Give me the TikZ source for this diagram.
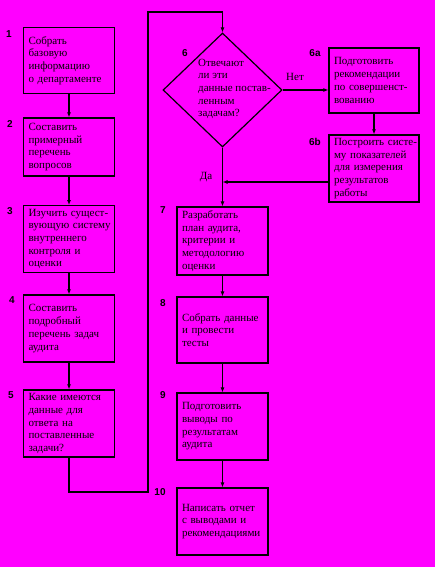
\documentclass[tikz,border=0pt]{standalone}
\usepackage{fontspec}
\setmainfont{Liberation Serif}
\setsansfont{Liberation Sans}
\usetikzlibrary{shapes.geometric,arrows.meta}
\definecolor{bgmag}{RGB}{255,0,255}

\begin{document}
\begin{tikzpicture}[x=1pt, y=-1pt,
    stepbox/.style={draw, line width=1.2pt, text width=81pt, inner xsep=5pt, minimum height=66pt, align=left, font=\fontsize{11}{12.7}\selectfont},
    decision/.style={draw, diamond, line width=1.2pt, minimum width=119pt, minimum height=114pt, inner sep=0pt},
    qtext/.style={inner sep=0pt, align=left, font=\fontsize{11}{12.7}\selectfont},
    stepnum/.style={font=\fontsize{10}{11}\selectfont\bfseries\sffamily},
    flow/.style={line width=1.2pt, -{Latex[length=5pt,width=4pt]}}]
    % Background
    \fill[bgmag] (0,0) rectangle (435,567);

    % Left column
    \node[stepbox] (b1) at (69,60.5) {Собрать\\базовую\\информацию\\о~департаменте};
    \node[stepbox, minimum height=58pt] (b2) at (69,147) {Составить\\примерный\\перечень\\вопросов};
    \node[stepbox] (b3) at (69,239) {\mbox{Изучить сущест-}\\вующую~систему\\внутреннего\\контроля~и\\оценки};
    \node[stepbox, minimum height=67pt] (b4) at (69,328.5) {Составить\\подробный\\перечень~задач\\аудита};
    \node[stepbox, minimum height=67pt] (b5) at (69,423.5) {Какие~имеются\\данные~для\\ответа~на\\поставленные\\задачи?};

    \node[stepnum] (n1) at (9,34) {1};
    \node[stepnum] (n2) at (10,124) {2};
    \node[stepnum] (n3) at (10,211) {3};
    \node[stepnum] (n4) at (12,300) {4};
    \node[stepnum] (n5) at (11,395) {5};

    % Decision
    \node[decision] (d6) at (222.5,90) {};
    \node[qtext, anchor=west] (d6txt) at (198,89) {Отвечают\\ли эти\\данные постав-\\ленным\\задачам?};
    \node[stepnum] (n6) at (185,53) {6};

    % Branch 6a / 6b
    \node[stepbox, text width=80pt, minimum height=65pt] (b6a) at (374,80.5) {Подготовить\\рекомендации\\\mbox{по совершенст-}\\вованию};
    \node[stepbox, text width=80pt, minimum height=63pt] (b6b) at (374,168.5) {\mbox{Построить систе-}\\му~показателей\\для~измерения\\результатов\\работы};
    \node[stepnum] (n6a) at (315,53) {6a};
    \node[stepnum] (n6b) at (315,142) {6b};

    % Right column
    \node[stepbox, minimum height=68pt] (b7) at (222.5,241) {Разработать\\план~аудита,\\критерии~и\\методологию\\оценки};
    \node[stepbox] (b8) at (222.5,330) {Собрать~данные\\и~провести\\тесты};
    \node[stepbox, minimum height=67pt] (b9) at (222.5,426.5) {Подготовить\\выводы~по\\результатам\\аудита};
    \node[stepbox, minimum height=67pt] (b10) at (222.5,521.5) {Написать~отчет\\с~выводами~и\\рекомендациями};

    \node[stepnum] (n7) at (163,210) {7};
    \node[stepnum] (n8) at (163,303) {8};
    \node[stepnum] (n9) at (163,395) {9};
    \node[stepnum] (n10) at (160,492) {10};

    % Labels
    \node[font=\fontsize{11}{12}\selectfont] (no) at (295,77) {Нет};
    \node[font=\fontsize{11}{12}\selectfont] (yes) at (206,177) {Да};

    % Connectors
    \coordinate (loopbot) at (148,492);
    \coordinate (looptop) at (222.5,12);
    \coordinate (merge) at (222.5,182);

    \draw[flow] (b1) -- (b2);
    \draw[flow] (b2) -- (b3);
    \draw[flow] (b3) -- (b4);
    \draw[flow] (b4) -- (b5);
    \draw[flow] (b5.south) |- (loopbot) |- (looptop) -- (d6.north);
    \draw[flow] (d6.east) -- (d6.east -| b6a.west);
    \draw[flow] (b6a) -- (b6b);
    \draw[flow] (b6b.west |- merge) -- (merge);
    \draw[flow] (d6.south) -- (b7.north);
    \draw[flow] (b7) -- (b8);
    \draw[flow] (b8) -- (b9);
    \draw[flow] (b9) -- (b10);
\end{tikzpicture}
\end{document}
